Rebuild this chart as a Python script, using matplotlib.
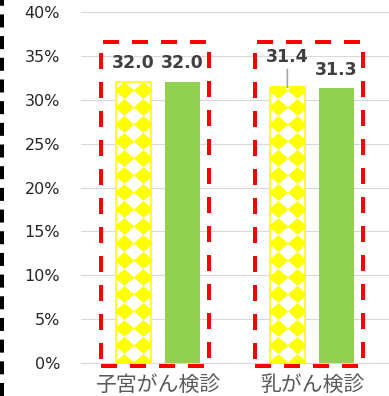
import matplotlib
matplotlib.use("Agg")
import matplotlib.pyplot as plt
import numpy as np
from matplotlib.patches import Rectangle
from matplotlib.lines import Line2D
from matplotlib.path import Path
from matplotlib.ticker import FuncFormatter

# data (percent)
categories = ['子宮がん検診', '乳がん検診']
pattern_series = [32.0, 31.4]
green_series = [32.0, 31.3]
label_lift_px = [(19, 19), (30, 18)]  # label offset above each bar top (pattern, green)

W, H = 389, 396
fig = plt.figure(figsize=(W / 100, H / 100), dpi=100)
ax = fig.add_axes([81 / W, 1 - 363 / H, 308 / W, 351 / H])

ax.set_xlim(-0.5, 1.5)
ax.set_ylim(0, 40)
px_x = 154.0          # pixels per category unit
px_y = 351.0 / 40.0   # pixels per percent

x = np.arange(len(categories))
bw = 0.227
off = 0.16

bars_a = ax.bar(x - off, pattern_series, bw, color='white', edgecolor='#FFFF00',
                linewidth=1.2, zorder=3)
bars_b = ax.bar(x + off, green_series, bw, color='#92D050', linewidth=0, zorder=3)

# diamond fill pattern (two columns of touching diamonds), clipped to each bar
diamond = Path([(-1, 0), (0, 0.872), (1, 0), (0, -0.872), (-1, 0)],
               [Path.MOVETO, Path.LINETO, Path.LINETO, Path.LINETO, Path.CLOSEPOLY])
for rect, val in zip(bars_a, pattern_series):
    cx = rect.get_x() + rect.get_width() / 2
    ys = np.arange(1.0, val * px_y + 17, 17) / px_y
    for side in (-1, 1):
        xs = cx + side * 9.75 / px_x
        ln, = ax.plot(np.full_like(ys, xs), ys, linestyle='none', marker=diamond,
                      markersize=14, markerfacecolor='#FFFF00', markeredgewidth=0,
                      zorder=4)
        ln.set_clip_path(rect)

# value labels
for i in range(len(categories)):
    for rect, val, lift in ((bars_a[i], pattern_series[i], label_lift_px[i][0]),
                            (bars_b[i], green_series[i], label_lift_px[i][1])):
        cx = rect.get_x() + rect.get_width() / 2
        ax.annotate(f'{val:.1f}', xy=(cx, val), xytext=(0, lift),
                    textcoords='offset pixels', ha='center', va='center',
                    fontsize=12.5, fontweight='bold', color='#404040', zorder=6,
                    annotation_clip=False)

# leader line for the raised label
cx = bars_a[1].get_x() + bars_a[1].get_width() / 2
ax.annotate('', xy=(cx, pattern_series[1]), xytext=(0, 18), textcoords='offset pixels',
            arrowprops=dict(arrowstyle='-', color='#A6A6A6', lw=1.2,
                            shrinkA=0, shrinkB=0), zorder=5)

# axes styling
ax.yaxis.set_major_locator(plt.MultipleLocator(5))
ax.yaxis.set_major_formatter(FuncFormatter(lambda v, p: f'{v:.0f}%'))
ax.grid(axis='y', color='#D9D9D9', linewidth=0.8, zorder=0)
ax.set_axisbelow(True)
for s in ('left', 'right', 'top'):
    ax.spines[s].set_visible(False)
ax.spines['bottom'].set_color('#D9D9D9')
ax.spines['bottom'].set_linewidth(0.8)
ax.tick_params(axis='y', length=0, pad=15, labelsize=11.5, labelcolor='#262626')
ax.tick_params(axis='x', length=0, pad=7.5)
ax.set_xticks(x)
ax.set_xticklabels(categories, fontsize=15, color='#595959',
                   family=['Noto Sans CJK JP', 'DejaVu Sans'])

# red dashed group frames
for gx in x:
    fr = Rectangle((gx - 0.373, -0.3), 0.705, 36.9, fill=False, edgecolor='#FF0000',
                   linewidth=2.88, linestyle=(0, (4, 3.25)), clip_on=False, zorder=7)
    ax.add_patch(fr)

# black dashed rule on the left edge
fig.add_artist(Line2D([2.2 / W, 2.2 / W], [0, 1], transform=fig.transFigure,
                      color='black', linewidth=2.88, linestyle=(0, (3.25, 2.17))))

fig.savefig('out.png', dpi=100)
